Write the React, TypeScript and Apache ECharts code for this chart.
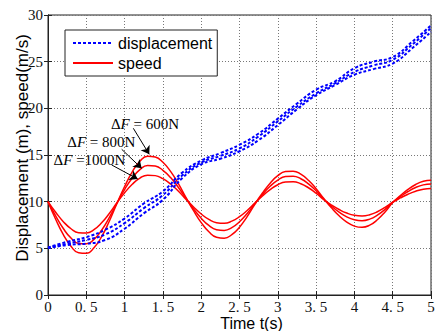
import React, { useEffect, useRef } from 'react';
import * as echarts from 'echarts';

// time samples (s)
const speedTime = [0, 0.1, 0.2, 0.3, 0.4, 0.5, 0.6, 0.7, 0.8, 0.9, 1.0, 1.1, 1.2, 1.3, 1.4, 1.5, 1.6, 1.7, 1.8, 1.9, 2.0, 2.1, 2.2, 2.3, 2.4, 2.5, 2.6, 2.7, 2.8, 2.9, 3.0, 3.1, 3.2, 3.3, 3.4, 3.5, 3.6, 3.7, 3.8, 3.9, 4.0, 4.1, 4.2, 4.3, 4.4, 4.5, 4.6, 4.7, 4.8, 4.9, 5.0];
// speed (m/s), ΔF = 600N / 800N / 1000N
const speed600 = [10, 8.12, 6.47, 5.22, 4.52, 4.46, 5.06, 6.25, 7.9, 9.8, 11.62, 13.19, 14.33, 14.87, 14.78, 14.22, 13.24, 11.95, 10.46, 9.03, 7.76, 6.77, 6.19, 6.09, 6.47, 7.27, 8.4, 9.72, 10.93, 11.98, 12.78, 13.22, 13.27, 12.95, 12.29, 11.39, 10.33, 9.35, 8.49, 7.81, 7.38, 7.25, 7.48, 8.06, 8.9, 9.9, 10.65, 11.32, 11.84, 12.18, 12.3];
const speed800 = [10, 8.47, 7.12, 6.1, 5.53, 5.48, 5.96, 6.94, 8.29, 9.84, 11.29, 12.54, 13.44, 13.88, 13.81, 13.36, 12.58, 11.55, 10.37, 9.23, 8.23, 7.45, 7.0, 6.92, 7.21, 7.85, 8.74, 9.78, 10.78, 11.65, 12.31, 12.69, 12.73, 12.46, 11.91, 11.16, 10.28, 9.52, 8.88, 8.37, 8.06, 7.96, 8.13, 8.56, 9.18, 9.92, 10.54, 11.09, 11.52, 11.8, 11.9];
const speed1000 = [10, 8.86, 7.86, 7.1, 6.67, 6.63, 7.0, 7.73, 8.73, 9.88, 10.94, 11.86, 12.53, 12.84, 12.79, 12.46, 11.89, 11.14, 10.27, 9.43, 8.68, 8.1, 7.75, 7.69, 7.91, 8.39, 9.06, 9.84, 10.61, 11.29, 11.81, 12.1, 12.13, 11.92, 11.49, 10.91, 10.22, 9.64, 9.16, 8.78, 8.54, 8.47, 8.6, 8.92, 9.39, 9.94, 10.4, 10.8, 11.12, 11.33, 11.4];

const dispTime = [0, 0.25, 0.5, 0.75, 1.0, 1.25, 1.5, 1.75, 2.0, 2.25, 2.5, 2.75, 3.0, 3.25, 3.5, 3.75, 4.0, 4.25, 4.5, 4.75, 5.0];
// displacement (m)
const dispA = [5.1, 5.7, 6.2, 7.0, 8.2, 9.8, 11.1, 13.1, 14.4, 15.2, 16.1, 17.3, 18.9, 20.5, 22.0, 22.9, 24.3, 25.0, 25.5, 27.1, 28.9];
const dispB = [5.05, 5.5, 5.9, 6.5, 7.7, 9.3, 10.7, 12.8, 14.2, 14.9, 15.7, 17.0, 18.6, 20.2, 21.6, 22.7, 23.9, 24.6, 25.2, 26.8, 28.6];
const dispC = [5.0, 5.36, 5.5, 5.9, 7.1, 8.75, 10.2, 12.5, 14.0, 14.6, 15.4, 16.6, 18.2, 19.9, 21.4, 22.5, 23.6, 24.2, 24.8, 26.4, 28.2];

// annotations
const annoLabels = ['600N', '800N', '1000N'];
const annoSep = [' = ', ' = ', ' ='];
const annoTextPos = [[1.266, 18.32], [0.696, 16.36], [0.542, 14.46]];
const arrowStart = [[1.114, 17.86], [0.962, 15.61], [0.832, 13.93]];
const arrowEnd = [[1.322, 15.07], [1.223, 13.57], [1.171, 12.43]];

const legendNames = ['displacement', 'speed'];

export default function App() {
  const ref = useRef<HTMLDivElement>(null);
  useEffect(() => {
    if (!ref.current) return;
    const chart = echarts.init(ref.current, undefined, { renderer: 'svg' });
    const serif = 'Liberation Serif';
    const sans = 'Liberation Sans';
    const axisColor = '#222';

    const speedSeries = [speed600, speed800, speed1000].map((arr, k) => ({
      type: 'line',
      name: legendNames[1],
      data: speedTime.map((t, i) => [t, arr[i]]),
      symbol: 'none',
      smooth: true,
      lineStyle: { color: '#ff0000', width: 1.5 },
      itemStyle: { color: '#ff0000' },
      silent: true,
      z: 2,
      ...(k === 0
        ? {
            markLine: {
              silent: true,
              symbol: ['none', 'arrow'],
              symbolSize: 8,
              label: { show: false },
              lineStyle: { color: '#000', width: 1, type: 'solid' },
              data: arrowStart.map((s, j) => [{ coord: s }, { coord: arrowEnd[j] }]),
            },
            markPoint: {
              silent: true,
              symbol: 'rect',
              symbolSize: 1,
              itemStyle: { color: 'rgba(0,0,0,0)' },
              data: annoTextPos.map((p, j) => ({
                coord: p,
                label: {
                  show: true,
                  position: 'inside',
                  color: '#000',
                  formatter: '{d|Δ}{f|F}{n|' + annoSep[j] + annoLabels[j] + '}',
                  rich: {
                    d: { fontFamily: serif, fontSize: 15, color: '#000' },
                    f: { fontFamily: serif, fontSize: 15, fontStyle: 'italic', color: '#000' },
                    n: { fontFamily: serif, fontSize: 15, color: '#000' },
                  },
                },
              })),
            },
          }
        : {}),
    }));

    const dispSeries = [dispA, dispB, dispC].map((arr) => ({
      type: 'line',
      name: legendNames[0],
      data: dispTime.map((t, i) => [t, arr[i]]),
      symbol: 'none',
      smooth: true,
      lineStyle: { color: '#0000ff', width: 2, type: [3, 2] },
      itemStyle: { color: '#0000ff' },
      silent: true,
      z: 3,
    }));

    chart.setOption({
      animation: false,
      backgroundColor: '#fff',
      grid: {
        left: 48, right: 6, top: 15, bottom: 36,
        outerBoundsMode: 'none',
        containLabel: false,
        show: true, borderColor: axisColor, borderWidth: 1, backgroundColor: 'transparent',
      },
      legend: {
        data: legendNames,
        orient: 'vertical',
        left: 65,
        top: 30,
        itemWidth: 40,
        itemHeight: 14,
        itemGap: 4,
        padding: [5, 5, 5, 7],
        borderColor: '#222',
        borderWidth: 1,
        backgroundColor: '#fff',
        selectedMode: false,
        itemStyle: { color: 'rgba(0,0,0,0)', opacity: 0, borderWidth: 0 },
        textStyle: { fontFamily: sans, fontSize: 16, color: '#000' },
      },
      xAxis: [
        {
          type: 'value',
          min: 0,
          max: 5,
          interval: 0.5,
          axisLine: { show: true, lineStyle: { color: axisColor } },
          axisTick: { show: true, inside: true, length: 4, lineStyle: { color: axisColor } },
          axisLabel: {
            fontFamily: serif,
            fontSize: 15,
            color: '#111',
            margin: 4,
            formatter: (v: number) => String(v).replace('.', '. '),
          },
          splitLine: { show: true, lineStyle: { type: [1, 2], color: '#777' } },
          name: 'Time t(s)',
          nameLocation: 'middle',
          nameGap: 20,
          nameMoveOverlap: false,
          nameTextStyle: { fontFamily: sans, fontSize: 16, color: '#000', padding: [0, 0, 0, 24] },
        },
        {
          type: 'value',
          position: 'top',
          min: 0,
          max: 5,
          interval: 0.5,
          axisLine: { show: true, lineStyle: { color: axisColor } },
          axisTick: { show: true, inside: true, length: 4, lineStyle: { color: axisColor } },
          axisLabel: { show: false },
          splitLine: { show: false },
        },
      ],
      yAxis: [
        {
          type: 'value',
          min: 0,
          max: 30,
          interval: 5,
          axisLine: { show: true, lineStyle: { color: axisColor } },
          axisTick: { show: true, inside: true, length: 4, lineStyle: { color: axisColor } },
          axisLabel: { fontFamily: serif, fontSize: 15, color: '#111', margin: 5 },
          splitLine: { show: true, lineStyle: { type: [1, 2], color: '#777' } },
          name: 'Displacement (m), speed(m/s)',
          nameLocation: 'middle',
          nameGap: 17,
          nameMoveOverlap: false,
          nameTextStyle: { fontFamily: sans, fontSize: 17, color: '#000', padding: [0, 0, 0, 14] },
        },
        {
          type: 'value',
          position: 'right',
          min: 0,
          max: 30,
          interval: 5,
          axisLine: { show: true, lineStyle: { color: axisColor } },
          axisTick: { show: true, inside: true, length: 4, lineStyle: { color: axisColor } },
          axisLabel: { show: false },
          splitLine: { show: false },
        },
      ],
      series: [...speedSeries, ...dispSeries],
    });
    return () => chart.dispose();
  }, []);
  return <div ref={ref} style={{ position: 'fixed', left: 0, top: 0, width: 437, height: 331 }} />;
}
